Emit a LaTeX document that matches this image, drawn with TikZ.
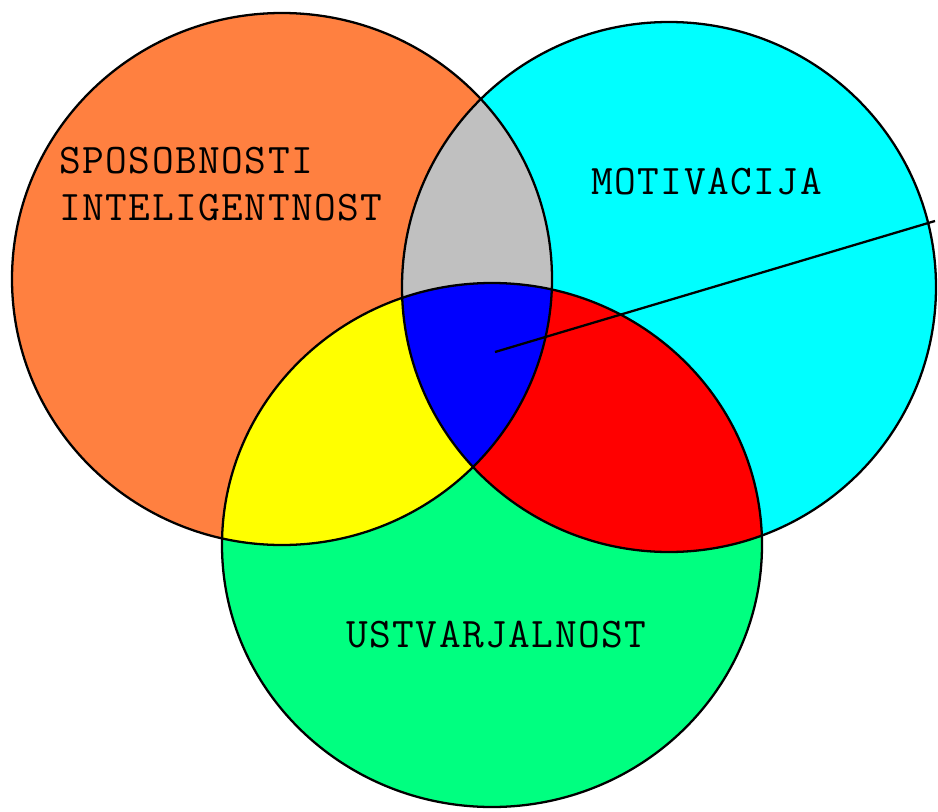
\documentclass[tikz,border=0pt]{standalone}
\usepackage{xcolor}
\usepackage{fontspec}
\usepackage{tikz}
\newfontfamily\vennfont[LetterSpace=3.5]{Latin Modern Mono}

\definecolor{ablOrange}{RGB}{255,128,64}
\definecolor{ablCyan}{RGB}{0,255,255}
\definecolor{ablGreen}{RGB}{0,255,128}
\definecolor{ablGray}{RGB}{192,192,192}
\definecolor{ablYellow}{RGB}{255,255,0}
\definecolor{ablRed}{RGB}{255,0,0}
\definecolor{ablBlue}{RGB}{0,0,255}

% circle paths, in pixel units
\def\sposPath{(282,279) ellipse [x radius=270, y radius=266]}
\def\motiPath{(669,287) ellipse [x radius=267, y radius=265]}
\def\ustvPath{(492,545) ellipse [x radius=270, y radius=262]}

\begin{document}
\begin{tikzpicture}[
  x=0.02cm, y=-0.02cm,
  rim/.style={draw=black, line width=1.3pt},
  lbl/.style={anchor=base west, inner sep=0pt,
    font=\vennfont\fontsize{24}{26}\selectfont}
]
\useasboundingbox (0,0) rectangle (938,812);

% ── Single sets ──
\fill[ablOrange] \sposPath;
\fill[ablCyan]   \motiPath;
\fill[ablGreen]  \ustvPath;

% ── Pairwise overlaps ──
\begin{scope}
  \clip \sposPath;
  \fill[ablGray] \motiPath;
\end{scope}
\begin{scope}
  \clip \sposPath;
  \fill[ablYellow] \ustvPath;
\end{scope}
\begin{scope}
  \clip \motiPath;
  \fill[ablRed] \ustvPath;
\end{scope}

% ── Common part ──
\begin{scope}
  \clip \sposPath;
  \clip \motiPath;
  \fill[ablBlue] \ustvPath;
\end{scope}

% ── Outlines ──
\draw[rim] \sposPath;
\draw[rim] \motiPath;
\draw[rim] \ustvPath;

% ── Radius line ──
\coordinate (hub) at (495,352);
\coordinate (edge) at (935,221);
\draw[rim] (hub) -- (edge);

% ── Labels ──
\node[lbl] (spos) at (59,173) {SPOSOBNOSTI};
\node[lbl] (inte) at (59,220) {INTELIGENTNOST};
\node[lbl] (moti) at (591,194) {MOTIVACIJA};
\node[lbl] (ustv) at (346,647) {USTVARJALNOST};

\end{tikzpicture}
\end{document}
